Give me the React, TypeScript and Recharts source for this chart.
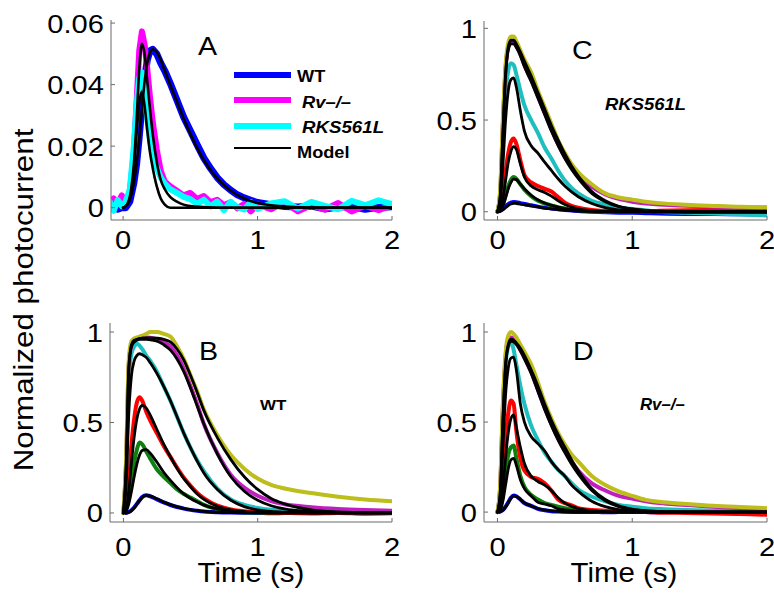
import React from "react";
import { LineChart, Line, XAxis, YAxis } from "recharts";

const FONT = '"Liberation Sans", Arial, Helvetica, sans-serif';
const AXIS = "#6b6b6b";

// ---- time bases (s) ----
const tA = [-0.1, -0.07, -0.04, -0.01, 0.02, 0.05, 0.08, 0.1, 0.12, 0.14, 0.16, 0.18, 0.2, 0.22, 0.25, 0.28, 0.31, 0.35, 0.4, 0.45, 0.5, 0.55, 0.6, 0.65, 0.7, 0.75, 0.8, 0.85, 0.9, 0.95, 1.0, 1.1, 1.2, 1.3, 1.4, 1.5, 1.6, 1.7, 1.8, 1.9, 2.0];
const tModelA = [0, 0.03, 0.06, 0.08, 0.1, 0.12, 0.14, 0.16, 0.18, 0.2, 0.22, 0.25, 0.28, 0.31, 0.35, 0.4, 0.45, 0.5, 0.6, 0.7, 0.8, 0.9, 1.0, 1.2, 1.5, 2.0];
const tFam = [0, 0.02, 0.04, 0.06, 0.08, 0.1, 0.12, 0.14, 0.17, 0.2, 0.25, 0.3, 0.35, 0.4, 0.45, 0.5, 0.55, 0.6, 0.7, 0.8, 0.9, 1.0, 1.1, 1.2, 1.4, 1.6, 1.8, 2.0];

// ---- panel A: single photon responses ----
const aWT = [0, 0.0005, -0.0005, 0, 0, 0.002, 0.008, 0.014, 0.023, 0.033, 0.042, 0.048, 0.051, 0.0515, 0.05, 0.047, 0.0445, 0.0405, 0.035, 0.0295, 0.025, 0.0205, 0.0162, 0.0128, 0.0098, 0.0075, 0.0057, 0.0042, 0.0032, 0.0024, 0.0017, 0.001, 0.0004, 0.0002, 0.0005, -0.0004, 0.0002, 0.0004, -0.0005, 0.0001, 0.0003];
const aRv = [0.001, 0.003, 0.0015, 0.004, 0.002, 0.005, 0.018, 0.034, 0.051, 0.0573, 0.053, 0.045, 0.036, 0.028, 0.019, 0.012, 0.0085, 0.007, 0.0055, 0.004, 0.0048, 0.0028, 0.0038, 0.0018, 0.0026, 0.0008, 0.0018, -0.0002, 0.0012, -0.0012, 0.001, -0.0005, 0.0018, -0.0012, 0.0008, -0.0006, 0.0015, -0.0012, 0.0006, -0.0008, 0.0008];
const aRKS = [0.002, -0.001, 0.0025, 0.0005, 0.002, 0.006, 0.02, 0.033, 0.042, 0.044, 0.038, 0.029, 0.022, 0.017, 0.013, 0.0098, 0.0078, 0.006, 0.0048, 0.0035, 0.0028, 0.0012, 0.0026, 0.0004, 0.002, -0.0008, 0.0019, 0.0002, -0.0006, 0.0018, -0.0004, 0.0014, 0.0021, -0.0003, 0.0019, 0.0006, -0.0005, 0.0022, 0.0008, 0.0024, 0.0012];
const mWT = [0, 0.001, 0.004, 0.008, 0.014, 0.022, 0.032, 0.041, 0.047, 0.0505, 0.0515, 0.0505, 0.048, 0.0445, 0.04, 0.0345, 0.029, 0.024, 0.0155, 0.0095, 0.0055, 0.003, 0.0015, 0.0004, 0, 0];
const mRv = [0, 0.001, 0.006, 0.014, 0.028, 0.045, 0.0533, 0.05, 0.041, 0.032, 0.024, 0.015, 0.009, 0.006, 0.0035, 0.002, 0.001, 0.0005, 0.0002, 0, 0, 0, 0, 0, 0, 0];
const mRKS = [0, 0.001, 0.005, 0.012, 0.024, 0.034, 0.0377, 0.033, 0.025, 0.018, 0.013, 0.007, 0.003, 0.001, 0, 0, 0, 0, 0, 0, 0, 0, 0, 0, 0, 0];

// ---- panel B: WT family ----
const bY = [0, 0.3, 0.85, 0.95, 0.965, 0.97, 0.975, 0.98, 0.99, 1.0, 1.0, 0.99, 0.975, 0.92, 0.85, 0.76, 0.67, 0.57, 0.43, 0.32, 0.245, 0.19, 0.155, 0.135, 0.11, 0.09, 0.075, 0.065];
const bM = [0, 0.28, 0.82, 0.93, 0.95, 0.96, 0.965, 0.97, 0.97, 0.968, 0.96, 0.945, 0.92, 0.87, 0.8, 0.7, 0.6, 0.49, 0.33, 0.21, 0.14, 0.095, 0.065, 0.048, 0.032, 0.022, 0.016, 0.012];
const bC = [0, 0.25, 0.75, 0.88, 0.92, 0.935, 0.925, 0.905, 0.87, 0.84, 0.78, 0.7, 0.62, 0.53, 0.44, 0.36, 0.29, 0.23, 0.135, 0.075, 0.045, 0.028, 0.018, 0.012, 0.008, 0.005, 0.004, 0.003];
const bR = [0, 0.05, 0.2, 0.38, 0.52, 0.61, 0.64, 0.62, 0.56, 0.51, 0.44, 0.37, 0.31, 0.25, 0.195, 0.15, 0.11, 0.08, 0.04, 0.02, 0.01, 0.005, 0.002, 0, -0.003, 0, -0.004, -0.002];
const bG = [0, 0.02, 0.08, 0.18, 0.28, 0.35, 0.39, 0.38, 0.34, 0.3, 0.24, 0.2, 0.165, 0.13, 0.105, 0.085, 0.065, 0.045, 0.022, 0.01, 0.004, 0.002, 0, 0.002, 0, 0.001, -0.001, 0];
const bB = [0, 0, 0.005, 0.015, 0.03, 0.05, 0.07, 0.088, 0.098, 0.092, 0.075, 0.058, 0.044, 0.033, 0.024, 0.017, 0.012, 0.008, 0.004, 0.002, 0.001, 0, -0.002, 0, 0.001, 0, 0.001, 0];
const bYm = [0, 0.25, 0.8, 0.93, 0.955, 0.96, 0.965, 0.967, 0.968, 0.968, 0.966, 0.96, 0.945, 0.905, 0.845, 0.76, 0.665, 0.565, 0.415, 0.295, 0.2, 0.13, 0.08, 0.05, 0.017, 0.006, 0.002, 0];
const bMm = [0, 0.25, 0.8, 0.92, 0.945, 0.955, 0.96, 0.96, 0.96, 0.957, 0.95, 0.93, 0.9, 0.85, 0.78, 0.69, 0.59, 0.49, 0.325, 0.2, 0.12, 0.07, 0.04, 0.022, 0.007, 0.002, 0, 0];
const bCm = [0, 0.15, 0.55, 0.76, 0.84, 0.87, 0.88, 0.875, 0.86, 0.83, 0.77, 0.7, 0.62, 0.53, 0.44, 0.36, 0.285, 0.22, 0.13, 0.07, 0.035, 0.017, 0.008, 0.004, 0.001, 0, 0, 0];
const bRm = [0, 0.02, 0.12, 0.28, 0.42, 0.52, 0.575, 0.595, 0.58, 0.54, 0.46, 0.38, 0.31, 0.245, 0.19, 0.145, 0.105, 0.075, 0.037, 0.017, 0.007, 0.003, 0.001, 0, 0, 0, 0, 0];
const bGm = [0, 0.01, 0.05, 0.12, 0.2, 0.27, 0.32, 0.345, 0.35, 0.33, 0.28, 0.225, 0.18, 0.14, 0.105, 0.08, 0.06, 0.043, 0.022, 0.011, 0.005, 0.002, 0.001, 0, 0, 0, 0, 0];
const bBm = [0, 0, 0.004, 0.013, 0.028, 0.048, 0.068, 0.085, 0.097, 0.094, 0.078, 0.06, 0.046, 0.034, 0.025, 0.018, 0.013, 0.009, 0.004, 0.002, 0.001, 0, 0, 0, 0, 0, 0, 0];

// ---- panel C: RKS561L family ----
const cY = [0, 0.12, 0.5, 0.8, 0.92, 0.955, 0.955, 0.93, 0.88, 0.83, 0.76, 0.66, 0.57, 0.48, 0.39, 0.32, 0.26, 0.215, 0.15, 0.1, 0.078, 0.066, 0.055, 0.047, 0.038, 0.032, 0.027, 0.025];
const cM = [0, 0.1, 0.48, 0.78, 0.9, 0.925, 0.925, 0.905, 0.86, 0.8, 0.72, 0.63, 0.54, 0.45, 0.37, 0.3, 0.245, 0.2, 0.135, 0.095, 0.07, 0.055, 0.045, 0.04, 0.033, 0.028, 0.025, 0.022];
const cC = [0, 0.1, 0.4, 0.65, 0.77, 0.81, 0.8, 0.75, 0.66, 0.58, 0.5, 0.43, 0.35, 0.29, 0.225, 0.17, 0.13, 0.1, 0.06, 0.04, 0.025, 0.015, 0.008, 0, -0.005, -0.01, -0.015, -0.02];
const cR = [0, 0.03, 0.1, 0.22, 0.32, 0.38, 0.4, 0.37, 0.28, 0.2, 0.16, 0.14, 0.125, 0.11, 0.08, 0.05, 0.032, 0.022, 0.01, 0.005, 0.003, 0, 0.003, 0.005, 0.008, 0.01, 0.012, 0.015];
const cG = [0, 0.01, 0.04, 0.09, 0.14, 0.175, 0.19, 0.18, 0.15, 0.12, 0.085, 0.06, 0.045, 0.035, 0.025, 0.018, 0.012, 0.008, 0.004, 0.002, 0, 0.002, 0, 0.001, 0, 0.002, 0, 0.001];
const cB = [0, 0.005, 0.015, 0.03, 0.042, 0.05, 0.053, 0.052, 0.047, 0.042, 0.035, 0.028, 0.022, 0.018, 0.013, 0.01, 0.007, 0.004, 0, -0.003, -0.005, -0.006, -0.008, -0.01, -0.012, -0.012, -0.014, -0.015];
const cYm = [0, 0.08, 0.42, 0.75, 0.9, 0.935, 0.935, 0.915, 0.87, 0.82, 0.74, 0.65, 0.56, 0.47, 0.39, 0.315, 0.25, 0.195, 0.11, 0.06, 0.03, 0.015, 0.007, 0.003, 0, 0, 0, 0];
const cMm = [0, 0.08, 0.42, 0.74, 0.88, 0.915, 0.915, 0.895, 0.85, 0.79, 0.71, 0.62, 0.53, 0.44, 0.36, 0.29, 0.23, 0.18, 0.1, 0.055, 0.028, 0.014, 0.006, 0.003, 0, 0, 0, 0];
const cCm = [0, 0.05, 0.25, 0.5, 0.66, 0.72, 0.73, 0.68, 0.55, 0.44, 0.36, 0.32, 0.27, 0.225, 0.18, 0.14, 0.108, 0.082, 0.045, 0.022, 0.01, 0.004, 0.002, 0, 0, 0, 0, 0];
const cRm = [0, 0.01, 0.07, 0.17, 0.27, 0.33, 0.355, 0.34, 0.26, 0.19, 0.14, 0.12, 0.105, 0.085, 0.06, 0.04, 0.026, 0.016, 0.006, 0.002, 0, 0, 0, 0, 0, 0, 0, 0];
const cGm = [0, 0.005, 0.03, 0.075, 0.125, 0.16, 0.178, 0.175, 0.15, 0.125, 0.09, 0.065, 0.048, 0.035, 0.025, 0.017, 0.011, 0.007, 0.003, 0.001, 0, 0, 0, 0, 0, 0, 0, 0];
const cBm = [0, 0.002, 0.01, 0.022, 0.034, 0.042, 0.046, 0.045, 0.042, 0.038, 0.032, 0.026, 0.02, 0.016, 0.012, 0.009, 0.006, 0.004, 0.002, 0.001, 0, 0, 0, 0, 0, 0, 0, 0];

// ---- panel D: Rv-/- family ----
const dY = [0, 0.15, 0.6, 0.88, 0.98, 1.0, 0.99, 0.97, 0.93, 0.89, 0.82, 0.72, 0.61, 0.52, 0.44, 0.375, 0.32, 0.28, 0.2, 0.15, 0.115, 0.09, 0.068, 0.057, 0.045, 0.035, 0.028, 0.022];
const dM = [0, 0.14, 0.58, 0.86, 0.96, 0.97, 0.965, 0.95, 0.9, 0.86, 0.78, 0.68, 0.58, 0.49, 0.41, 0.34, 0.28, 0.23, 0.16, 0.12, 0.09, 0.075, 0.06, 0.05, 0.04, 0.03, 0.022, 0.015];
const dC = [0, 0.12, 0.55, 0.82, 0.92, 0.945, 0.9, 0.82, 0.7, 0.6, 0.48, 0.4, 0.33, 0.28, 0.235, 0.2, 0.16, 0.125, 0.085, 0.06, 0.04, 0.03, 0.022, 0.017, 0.011, 0.008, 0.006, 0.004];
const dR = [0, 0.05, 0.2, 0.4, 0.55, 0.62, 0.6, 0.45, 0.3, 0.23, 0.195, 0.185, 0.16, 0.12, 0.07, 0.05, 0.038, 0.022, 0.012, 0.008, 0.005, 0.003, 0, -0.003, -0.005, -0.008, -0.01, -0.015];
const dG = [0, 0.02, 0.1, 0.22, 0.32, 0.36, 0.37, 0.3, 0.2, 0.14, 0.095, 0.07, 0.05, 0.04, 0.03, 0.022, 0.016, 0.01, 0.005, 0.002, 0.001, 0, 0.001, 0, 0.001, 0, 0.001, 0];
const dB = [0, 0.003, 0.012, 0.03, 0.055, 0.08, 0.092, 0.088, 0.07, 0.05, 0.035, 0.018, 0.01, 0.005, 0.003, 0.002, 0.001, 0, 0.001, -0.001, 0, 0.001, 0, -0.001, 0, 0.001, 0, 0];
const dYm = [0, 0.1, 0.5, 0.82, 0.93, 0.96, 0.955, 0.94, 0.91, 0.87, 0.79, 0.7, 0.6, 0.51, 0.43, 0.36, 0.29, 0.23, 0.13, 0.07, 0.035, 0.017, 0.008, 0.004, 0.001, 0, 0, 0];
const dMm = [0, 0.1, 0.5, 0.81, 0.92, 0.95, 0.945, 0.93, 0.895, 0.85, 0.77, 0.67, 0.57, 0.48, 0.4, 0.33, 0.265, 0.21, 0.12, 0.063, 0.03, 0.014, 0.006, 0.003, 0.001, 0, 0, 0];
const dCm = [0, 0.06, 0.35, 0.65, 0.8, 0.855, 0.86, 0.79, 0.6, 0.5, 0.42, 0.38, 0.34, 0.28, 0.235, 0.2, 0.15, 0.115, 0.06, 0.03, 0.014, 0.006, 0.003, 0, 0, 0, 0, 0];
const dRm = [0, 0.02, 0.12, 0.3, 0.44, 0.52, 0.54, 0.47, 0.36, 0.27, 0.2, 0.17, 0.15, 0.12, 0.08, 0.05, 0.032, 0.02, 0.008, 0.003, 0.001, 0, 0, 0, 0, 0, 0, 0];
const dGm = [0, 0.01, 0.06, 0.15, 0.24, 0.29, 0.298, 0.26, 0.18, 0.13, 0.09, 0.055, 0.045, 0.035, 0.018, 0.012, 0.008, 0.005, 0.002, 0.001, 0, 0, 0, 0, 0, 0, 0, 0];
const dBm = [0, 0.002, 0.01, 0.028, 0.052, 0.078, 0.09, 0.087, 0.07, 0.052, 0.034, 0.02, 0.012, 0.007, 0.004, 0.002, 0.001, 0, 0, 0, 0, 0, 0, 0, 0, 0, 0, 0];

const xTicks = [0, 1, 2];
const yTicksA = [0, 0.02, 0.04, 0.06];
const yTicksN = [0, 0.5, 1];

// matlab-ish colours
const COL = {
  y: "#bdbd1c",
  m: "#bf1fbf",
  c: "#1fbfbf",
  r: "#ff0000",
  g: "#0f800f",
  b: "#0000ff",
  k: "#000000",
};

type Series = { ts: number[]; vs: number[]; color: string; width: number; smooth: boolean };

const pts = (ts: number[], vs: number[]) => ts.map((t, i) => ({ t, v: vs[i] }));

// family panel: data traces first, model fits on top
const family = (Y, M, C, R, G, B, Ym, Mm, Cm, Rm, Gm, Bm): Series[] => [
  ...[[B, COL.b], [G, COL.g], [R, COL.r], [C, COL.c], [M, COL.m], [Y, COL.y]].map(
    ([vs, color]) => ({ ts: tFam, vs: vs as number[], color: color as string, width: 4, smooth: true })
  ),
  ...[Bm, Gm, Rm, Cm, Mm, Ym].map((vs) => ({ ts: tFam, vs, color: COL.k, width: 2.8, smooth: true })),
];

const seriesA: Series[] = [
  { ts: tA, vs: aWT, color: "#0000ff", width: 7, smooth: false },
  { ts: tA, vs: aRv, color: "#ff00ff", width: 6, smooth: false },
  { ts: tA, vs: aRKS, color: "#00ffff", width: 6, smooth: false },
  { ts: tModelA, vs: mWT, color: COL.k, width: 2.6, smooth: true },
  { ts: tModelA, vs: mRv, color: COL.k, width: 2.6, smooth: true },
  { ts: tModelA, vs: mRKS, color: COL.k, width: 2.6, smooth: true },
];
const seriesB = family(bY, bM, bC, bR, bG, bB, bYm, bMm, bCm, bRm, bGm, bBm);
const seriesC = family(cY, cM, cC, cR, cG, cB, cYm, cMm, cCm, cRm, cGm, cBm);
const seriesD = family(dY, dM, dC, dR, dG, dB, dYm, dMm, dCm, dRm, dGm, dBm);

// helvetica in the source is drawn wider than Liberation Sans
function SText({ x, y, size, sx = 1.12, rot = 0, anchor = "start", bold = false, italic = false, children }: any) {
  return (
    <text
      transform={`translate(${x},${y}) rotate(${rot}) scale(${sx},1)`}
      textAnchor={anchor}
      fontSize={size}
      fontFamily={FONT}
      fontWeight={bold ? 700 : 400}
      fontStyle={italic ? "italic" : "normal"}
      fill="#000"
    >
      {children}
    </text>
  );
}

const XTick = ({ x, y, payload, gap }: any) => (
  <g>
    <line x1={x} x2={x} y1={y} y2={y - 4} stroke={AXIS} />
    <SText x={x} y={y + gap + 19} size={26} anchor="middle">{String(payload.value)}</SText>
  </g>
);

const YTick = ({ x, y, payload }: any) => (
  <g>
    <line x1={x} x2={x + 4} y1={y} y2={y} stroke={AXIS} />
    <SText x={x - 7} y={y + 9.5} size={26} anchor="end">{String(payload.value)}</SText>
  </g>
);

const YW = 70;
const XH = 40;

function Panel({ box, xDomain, yDomain, yTicks, gap, series }: any) {
  const [L, T, R, B] = box;
  return (
    <div style={{ position: "absolute", left: 0, top: 0 }}>
      <LineChart width={774} height={594} margin={{ left: L - YW, top: T, right: 774 - R, bottom: 594 - B - XH }}>
        <XAxis
          type="number"
          dataKey="t"
          domain={xDomain}
          ticks={xTicks}
          allowDataOverflow
          interval={0}
          height={XH}
          stroke={AXIS}
          tickLine={false}
          tickSize={0}
          tickMargin={0}
          tick={<XTick gap={gap} />}
        />
        <YAxis
          type="number"
          domain={yDomain}
          ticks={yTicks}
          allowDataOverflow
          interval={0}
          width={YW}
          stroke={AXIS}
          tickLine={false}
          tickSize={0}
          tickMargin={0}
          tick={<YTick />}
        />
        {series.map((s: Series, i: number) => (
          <Line
            key={i}
            data={pts(s.ts, s.vs)}
            dataKey="v"
            type={s.smooth ? "monotone" : "linear"}
            stroke={s.color}
            strokeWidth={s.width}
            strokeLinejoin="round"
            strokeLinecap="round"
            dot={false}
            activeDot={false}
            isAnimationActive={false}
          />
        ))}
      </LineChart>
    </div>
  );
}

export default function App() {
  return (
    <div style={{ position: "absolute", left: 0, top: 0, width: 774, height: 594, background: "#fff", overflow: "hidden" }}>
      <Panel box={[111, 20, 392, 220]} xDomain={[-0.09, 2]} yDomain={[-0.004, 0.061]} yTicks={yTicksA} gap={10} series={seriesA} />
      <Panel box={[484, 21, 767, 220]} xDomain={[-0.1, 2]} yDomain={[-0.045, 1.04]} yTicks={yTicksN} gap={10} series={seriesC} />
      <Panel box={[110, 323, 392, 522]} xDomain={[-0.1, 2]} yDomain={[-0.05, 1.05]} yTicks={yTicksN} gap={15} series={seriesB} />
      <Panel box={[484, 323, 767, 522]} xDomain={[-0.1, 2]} yDomain={[-0.055, 1.05]} yTicks={yTicksN} gap={15} series={seriesD} />
      <svg width={774} height={594} style={{ position: "absolute", left: 0, top: 0, pointerEvents: "none" }}>
        <SText x={33} y={300} size={27} sx={1.16} rot={-90} anchor="middle">Normalized photocurrent</SText>
        <SText x={251} y={582} size={27} sx={1.09} anchor="middle">Time (s)</SText>
        <SText x={624} y={582} size={27} sx={1.09} anchor="middle">Time (s)</SText>

        <SText x={198} y={55} size={26} sx={1.1}>A</SText>
        <SText x={199} y={360} size={26} sx={1.1}>B</SText>
        <SText x={572} y={59} size={26} sx={1.1}>C</SText>
        <SText x={573} y={360} size={26} sx={1.1}>D</SText>

        <SText x={260} y={410} size={15} sx={1.13} bold>WT</SText>
        <SText x={605} y={110} size={16.5} sx={1.12} bold italic>RKS561L</SText>
        <SText x={640} y={410} size={16} sx={1.05} bold italic>Rv–/–</SText>

        <line x1={234} x2={291} y1={75} y2={75} stroke="#0000ff" strokeWidth={6} />
        <line x1={234} x2={291} y1={100} y2={100} stroke="#ff00ff" strokeWidth={6} />
        <line x1={234} x2={291} y1={126} y2={126} stroke="#00ffff" strokeWidth={6} />
        <line x1={234} x2={291} y1={148} y2={148} stroke="#000" strokeWidth={2} />
        <SText x={297} y={82} size={17} sx={1.07} bold>WT</SText>
        <SText x={302} y={108} size={17} sx={1.08} bold italic>Rv–/–</SText>
        <SText x={302} y={133} size={17} sx={1.1} bold italic>RKS561L</SText>
        <SText x={297} y={158} size={17} sx={1.07} bold>Model</SText>
      </svg>
    </div>
  );
}
